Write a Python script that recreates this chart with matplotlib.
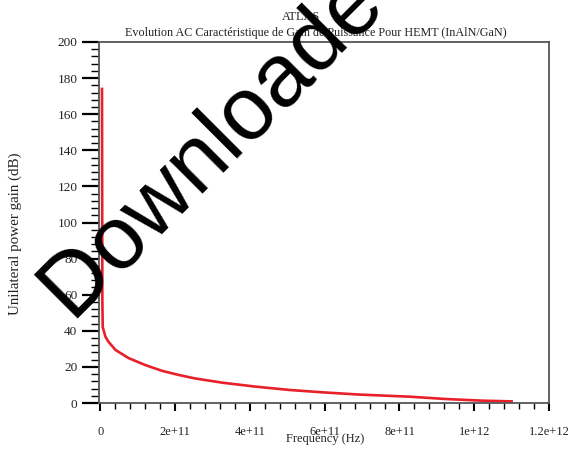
import matplotlib
matplotlib.use("Agg")
import matplotlib.pyplot as plt
from matplotlib.ticker import MultipleLocator, FixedLocator

# ---- data ----
freq_hz = [4e9, 5e9, 6e9, 1.33e10, 2.1e10, 4e10, 7.5e10, 1.2e11, 1.65e11, 2.08e11,
           2.53e11, 3.28e11, 4.18e11, 5.07e11, 5.95e11, 6.9e11, 8.27e11, 9.25e11,
           1.021e12, 1.1e12]
gain_db = [174, 57, 42, 36.7, 34, 29.4, 24.9, 21, 17.8, 15.6,
           13.6, 11.2, 9.0, 7.2, 5.9, 4.7, 3.5, 2.2, 1.3, 0.9]

x_ticks = [0, 2e11, 4e11, 6e11, 8e11, 1e12, 1.2e12]
x_tick_labels = ["0", "2e+11", "4e+11", "6e+11", "8e+11", "1e+12", "1.2e+12"]
y_ticks = [0, 20, 40, 60, 80, 100, 120, 140, 160, 180, 200]

title_top = "ATLAS"
title_main = "Evolution AC Caractéristique de Gain de Puissance Pour HEMT (InAlN/GaN)"
x_label = "Frequency (Hz)"
y_label = "Unilateral power gain (dB)"
watermark = "Downloaded from"

W, H = 568, 449
fig = plt.figure(figsize=(W / 100, H / 100), dpi=100)
serif = "Liberation Serif"

left, right, top, bottom = 99, 549, 42, 403
ax = fig.add_axes([left / W, 1 - bottom / H, (right - left) / W, (bottom - top) / H])

ax.plot(freq_hz, gain_db, color="#e8202a", lw=1.9, solid_joinstyle="round")

ax.set_xlim(-0.004e12, 1.2e12)
ax.set_ylim(0, 200)
ax.xaxis.set_major_locator(FixedLocator(x_ticks))
ax.set_xticklabels(x_tick_labels)
ax.xaxis.set_minor_locator(MultipleLocator(4e10))
ax.yaxis.set_major_locator(FixedLocator(y_ticks))
ax.yaxis.set_minor_locator(MultipleLocator(4))

for sp in ax.spines.values():
    sp.set_color("#555555")
    sp.set_linewidth(1.3)

ax.tick_params(axis="y", which="major", direction="out", length=12, width=1.6,
               color="black", pad=3.5, labelsize=9.5)
ax.tick_params(axis="y", which="minor", direction="out", length=5.5, width=1.0,
               color="black")
ax.tick_params(axis="x", which="major", direction="out", length=6, width=1.5,
               color="black", pad=10.5, labelsize=9)
ax.tick_params(axis="x", which="minor", direction="out", length=4, width=1.0,
               color="black")
for lab in ax.get_xticklabels() + ax.get_yticklabels():
    lab.set_family(serif)
    lab.set_color("#222222")

ax.set_xlabel(x_label, family=serif, fontsize=9, color="#222222")
ax.xaxis.set_label_coords(0.503, (bottom - 439) / (bottom - top))
ax.xaxis.label.set_va("center")
ax.set_ylabel(y_label, family=serif, fontsize=10.8, color="#222222")
ax.yaxis.set_label_coords((15 - left) / (right - left), (bottom - 234) / (bottom - top))
ax.yaxis.label.set_va("center")

fig.text(301 / W, 1 - 17 / H, title_top, family=serif, fontsize=8.8,
         ha="center", va="center", color="#222222")
fig.text(316 / W, 1 - 33 / H, title_main, family=serif, fontsize=8.7,
         ha="center", va="center", color="#222222")

fig.text(73 / W, 1 - 323 / H, watermark, family="Liberation Sans", fontsize=64,
         rotation=45, rotation_mode="anchor", ha="left", va="baseline",
         color="black", zorder=10)

fig.savefig("out.png", dpi=100)
